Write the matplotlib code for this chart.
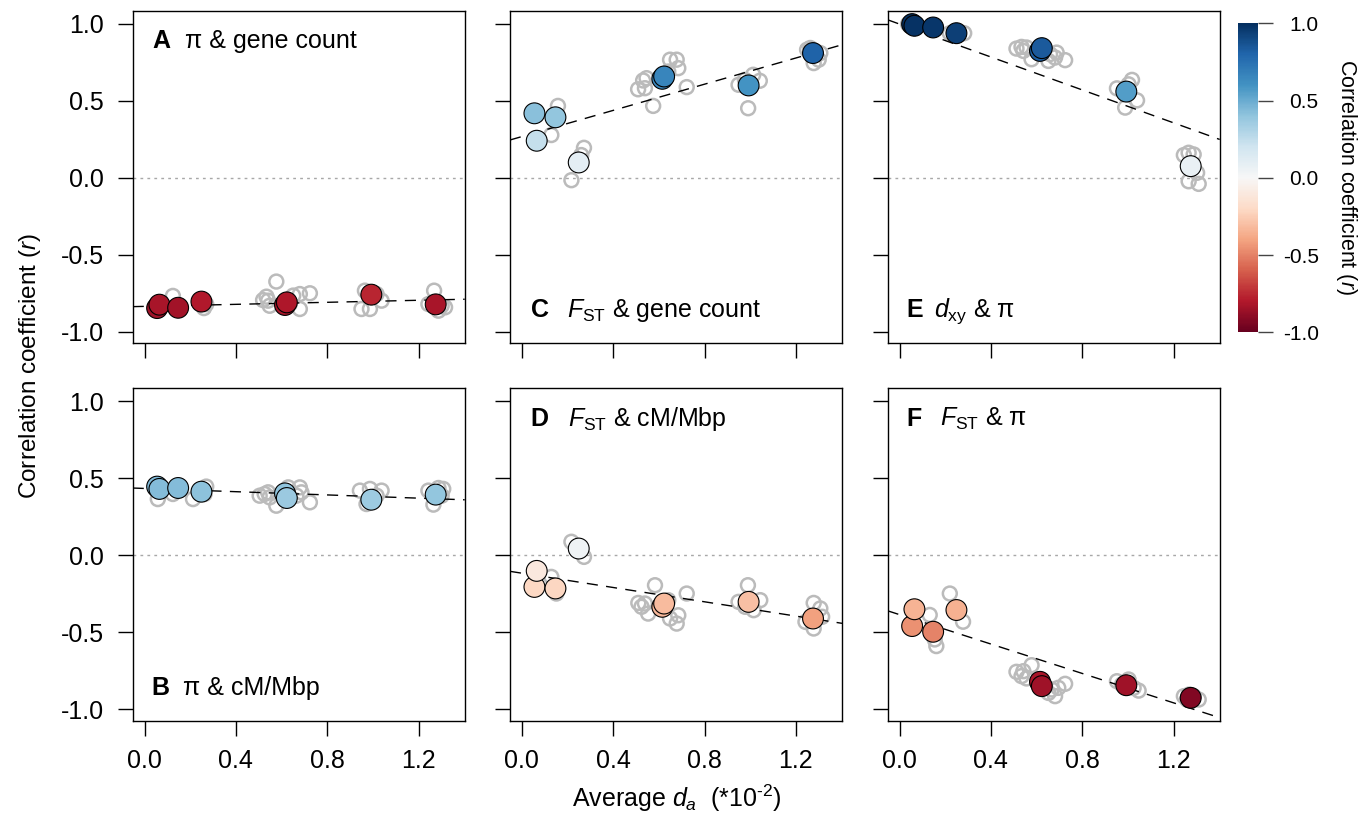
import matplotlib.pyplot as plt
import numpy as np
from matplotlib import cm, colors

plt.rcParams['font.family'] = 'Liberation Sans'
plt.rcParams['mathtext.fontset'] = 'custom'
plt.rcParams['mathtext.rm'] = 'Liberation Sans'
plt.rcParams['mathtext.it'] = 'Liberation Sans:italic'
plt.rcParams['mathtext.bf'] = 'Liberation Sans:bold'
plt.rcParams['axes.unicode_minus'] = False

# average d_a (*10^-2) of the eight species pairs (filled points)
pair_da = [0.055, 0.065, 0.147, 0.249, 0.615, 0.623, 0.993, 1.275]

# correlation coefficient per pair, per panel
r_A = [-0.845, -0.823, -0.843, -0.803, -0.825, -0.808, -0.758, -0.821]
r_B = [0.445, 0.430, 0.436, 0.412, 0.401, 0.371, 0.360, 0.393]
r_C = [0.419, 0.241, 0.393, 0.100, 0.643, 0.658, 0.600, 0.810]
r_D = [-0.206, -0.102, -0.216, 0.043, -0.335, -0.314, -0.303, -0.411]
r_E = [0.998, 0.987, 0.976, 0.939, 0.824, 0.842, 0.560, 0.076]
r_F = [-0.460, -0.351, -0.497, -0.356, -0.822, -0.850, -0.844, -0.926]

# grey open circles (individual values)
grey_x_A = [0.070, 0.124, 0.260, 0.270, 0.519, 0.534, 0.541, 0.548, 0.577, 0.636, 0.651, 0.680,
            0.680, 0.724, 0.950, 0.965, 0.987, 1.016, 1.038, 1.243, 1.268, 1.287, 1.301, 1.316]
grey_y_A = [-0.830, -0.766, -0.845, -0.820, -0.793, -0.771, -0.797, -0.830, -0.673, -0.819, -0.764, -0.754,
            -0.851, -0.749, -0.851, -0.732, -0.851, -0.754, -0.797, -0.819, -0.732, -0.862, -0.830, -0.840]

grey_x_B = [0.058, 0.124, 0.212, 0.263, 0.270, 0.504, 0.526, 0.541, 0.548, 0.577, 0.629, 0.665, 0.680,
            0.687, 0.724, 0.943, 0.972, 0.987, 1.016, 1.038, 1.243, 1.265, 1.287, 1.301, 1.308]
grey_y_B = [0.364, 0.397, 0.364, 0.397, 0.445, 0.386, 0.397, 0.408, 0.375, 0.321, 0.440, 0.386, 0.440,
            0.408, 0.343, 0.419, 0.332, 0.430, 0.386, 0.419, 0.419, 0.328, 0.436, 0.386, 0.430]

grey_x_C = [0.129, 0.158, 0.217, 0.260, 0.272, 0.509, 0.531, 0.539, 0.546, 0.575, 0.641, 0.649, 0.678,
            0.685, 0.722, 0.949, 0.977, 0.991, 1.013, 1.042, 1.249, 1.263, 1.278, 1.300, 1.307]
grey_y_C = [0.278, 0.467, -0.015, 0.148, 0.195, 0.575, 0.632, 0.582, 0.647, 0.467, 0.690, 0.767, 0.767,
            0.712, 0.589, 0.604, 0.636, 0.452, 0.669, 0.630, 0.832, 0.843, 0.745, 0.767, 0.810]

grey_x_D = [0.129, 0.151, 0.158, 0.217, 0.272, 0.510, 0.524, 0.539, 0.553, 0.583, 0.641, 0.649, 0.678,
            0.685, 0.722, 0.949, 0.978, 0.990, 1.015, 1.044, 1.242, 1.278, 1.278, 1.307, 1.315]
grey_y_D = [-0.141, -0.249, -0.216, 0.087, -0.011, -0.310, -0.335, -0.314, -0.379, -0.195, -0.292, -0.411, -0.444,
            -0.390, -0.249, -0.303, -0.335, -0.195, -0.357, -0.292, -0.433, -0.310, -0.476, -0.346, -0.400]

grey_x_E = [0.037, 0.220, 0.256, 0.283, 0.512, 0.534, 0.542, 0.556, 0.578, 0.652, 0.659, 0.681, 0.688,
            0.725, 0.952, 0.988, 1.003, 1.018, 1.040, 1.245, 1.266, 1.288, 1.303, 1.310, 1.266]
grey_y_E = [0.998, 0.939, 0.944, 0.939, 0.839, 0.850, 0.824, 0.846, 0.770, 0.759, 0.803, 0.781, 0.813,
            0.764, 0.581, 0.456, 0.607, 0.636, 0.503, 0.148, 0.163, 0.152, 0.033, -0.039, -0.022]

grey_x_F = [0.132, 0.154, 0.161, 0.220, 0.278, 0.512, 0.534, 0.542, 0.556, 0.578, 0.652, 0.666, 0.681,
            0.695, 0.725, 0.952, 0.974, 1.003, 1.025, 1.047, 1.245, 1.259, 1.267, 1.288, 1.310]
grey_y_F = [-0.388, -0.547, -0.590, -0.249, -0.432, -0.757, -0.785, -0.753, -0.800, -0.714, -0.894, -0.872, -0.915,
            -0.861, -0.835, -0.818, -0.839, -0.807, -0.861, -0.879, -0.915, -0.937, -0.905, -0.915, -0.937]

# dashed trend lines: intercept and slope
line_intercept = {'A': -0.834, 'B': 0.433, 'C': 0.268, 'D': -0.117, 'E': 0.998, 'F': -0.386}
line_slope = {'A': 0.033, 'B': -0.0525, 'C': 0.425, 'D': -0.232, 'E': -0.534, 'F': -0.477}

panel_titles = {
    'A': 'π & gene count',
    'B': 'π & cM/Mbp',
    'C': r'$F_{\mathrm{ST}}$ & gene count',
    'D': r'$F_{\mathrm{ST}}$ & cM/Mbp',
    'E': r'$d_{\mathrm{xy}}$ & π',
    'F': r'$F_{\mathrm{ST}}$ & π',
}

panel_r = {'A': r_A, 'B': r_B, 'C': r_C, 'D': r_D, 'E': r_E, 'F': r_F}
panel_grey = {'A': (grey_x_A, grey_y_A), 'B': (grey_x_B, grey_y_B), 'C': (grey_x_C, grey_y_C),
              'D': (grey_x_D, grey_y_D), 'E': (grey_x_E, grey_y_E), 'F': (grey_x_F, grey_y_F)}

# figure
W, H = 1371, 818
fig = plt.figure(figsize=(W / 100, H / 100), dpi=100)

col_left = [132.7, 510.0, 887.7]
row_top = [11.0, 388.3]
pw, ph = 332.0, 332.2

# (column, row, title at top?, letter x, title x)
layout = {
    'A': (0, 0, True, 0.060, 0.158),
    'B': (0, 1, False, 0.057, 0.153),
    'C': (1, 0, False, 0.063, 0.171),
    'D': (1, 1, True, 0.060, 0.176),
    'E': (2, 0, False, 0.057, 0.140),
    'F': (2, 1, True, 0.057, 0.158),
}

norm = colors.Normalize(vmin=-1, vmax=1)
cmap = plt.get_cmap('RdBu')

for key, (c, r, top, lx, tx) in layout.items():
    left = col_left[c] / W
    bottom = 1 - (row_top[r] + ph) / H
    ax = fig.add_axes([left, bottom, pw / W, ph / H])

    ax.axhline(0, color='#a8a8a8', lw=1, ls=(0, (2, 3)), zorder=1)

    gx, gy = panel_grey[key]
    ax.scatter(gx, gy, s=100, facecolors='none', edgecolors='#bbbbbb', linewidths=1.8, zorder=2)

    ax.axline((0, line_intercept[key]), slope=line_slope[key], color='black', lw=1,
              ls=(0, (8, 6)), zorder=3)

    rv = panel_r[key]
    ax.scatter(pair_da, rv, c=rv, cmap=cmap, norm=norm, s=225, edgecolors='black',
               linewidths=0.8, zorder=4)

    ax.set_xlim(-0.052, 1.402)
    ax.set_ylim(-1.073, 1.083)
    ax.set_xticks([0, 0.4, 0.8, 1.2])
    ax.set_xticklabels(['0.0', '0.4', '0.8', '1.2'])
    ax.set_yticks([-1, -0.5, 0, 0.5, 1])
    ax.set_yticklabels(['-1.0', '-0.5', '0.0', '0.5', '1.0'])
    ax.tick_params(direction='out', length=10.5, width=1, pad=10, labelsize=18,
                   labelleft=(c == 0), labelbottom=(r == 1))
    for s in ax.spines.values():
        s.set_linewidth(1)

    ty = 0.888 if top else 0.078
    ax.text(lx, ty, key, transform=ax.transAxes, fontsize=18, fontweight='bold',
            ha='left', va='baseline')
    ax.text(tx, ty, panel_titles[key], transform=ax.transAxes, fontsize=18,
            ha='left', va='baseline')

# axis labels
fig.text(30 / W, 1 - 366 / H, 'Correlation coefficient ($\\mathit{r}$)', rotation=90,
         ha='center', va='center', fontsize=17.5)
fig.text(677 / W, 1 - 807 / H, r'Average $d_{a}$  (*10$^{\text{-2}}$)', ha='center',
         va='baseline', fontsize=18)

# colorbar
cax = fig.add_axes([1238.3 / W, 1 - 332.3 / H, 20 / W, 309 / H])
cb = fig.colorbar(cm.ScalarMappable(norm=norm, cmap=cmap), cax=cax)
cb.outline.set_visible(False)
cb.set_ticks([-1, -0.5, 0, 0.5, 1])
cb.set_ticklabels(['-1.0', '-0.5', '0.0', '0.5', '1.0'])
cax.tick_params(length=10.5, width=1, color='#444444', labelsize=15, pad=33)
for lab in cax.get_yticklabels():
    lab.set_ha('right')
fig.text(1347 / W, 1 - 177 / H, 'Correlation coefficient ($\\mathit{r}$)', rotation=-90,
         ha='center', va='center', fontsize=15.5)

plt.savefig('out.png', dpi=100)
